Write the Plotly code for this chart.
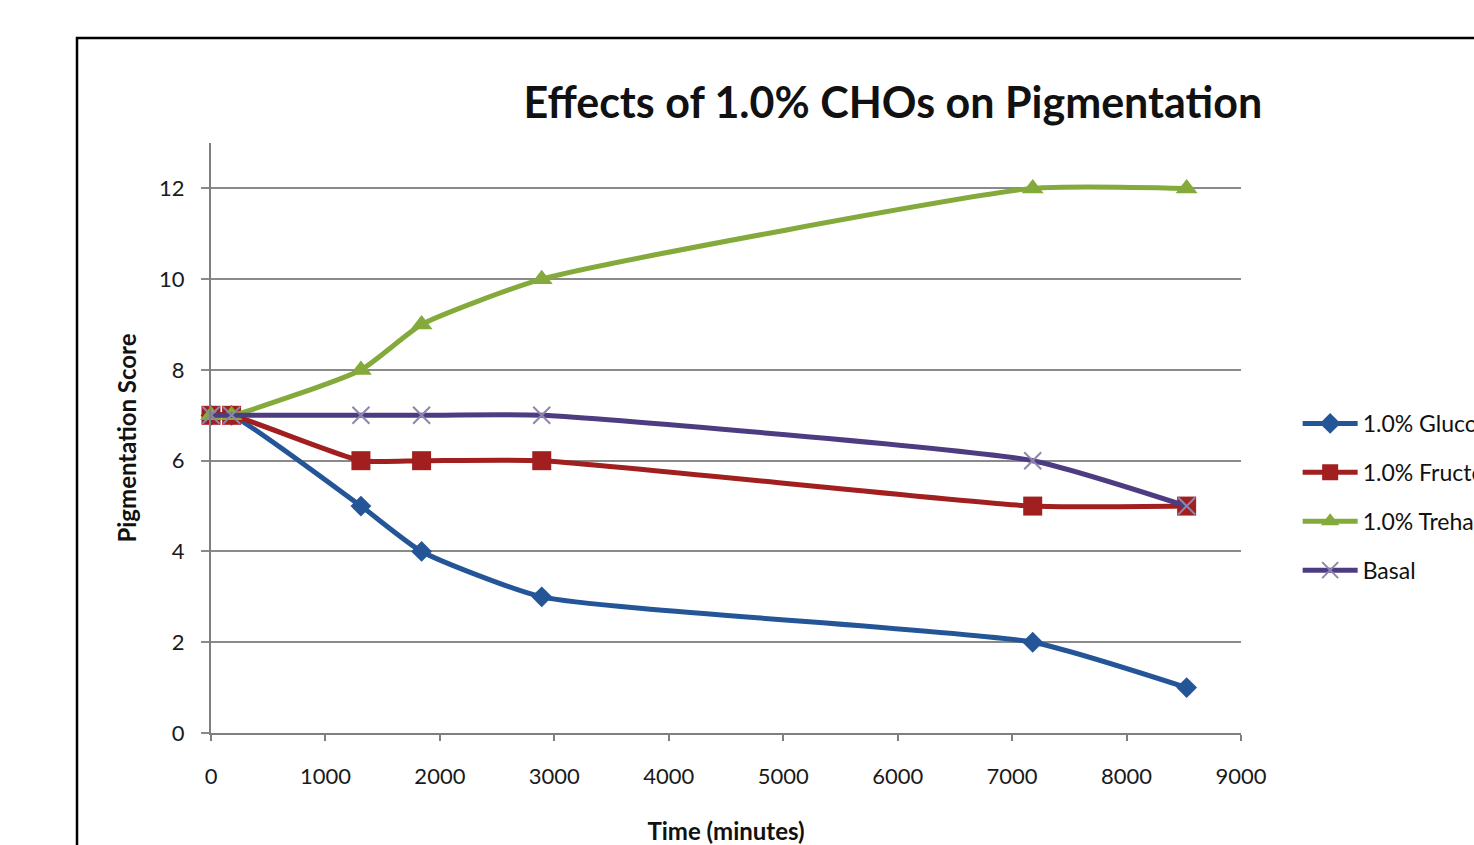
import plotly.graph_objects as go

time_min = [0, 180, 1310, 1840, 2890, 7180, 8525]
glucose = [7, 7, 5, 4, 3, 2, 1]
fructose = [7, 7, 6, 6, 6, 5, 5]
trehalose = [7, 7, 8, 9, 10, 12, 12]
basal = [7, 7, 7, 7, 7, 6, 5]

series_names = ["1.0% Glucose", "1.0% Fructose", "1.0% Trehalose", "Basal"]
x_ticks = [0, 1000, 2000, 3000, 4000, 5000, 6000, 7000, 8000, 9000]
y_ticks = [0, 2, 4, 6, 8, 10, 12]

styles = [
    dict(color="#245597", symbol="diamond", size=16, mcolor="#245597", mline=0),
    dict(color="#A11F1F", symbol="square", size=19, mcolor="#A11F1F", mline=0),
    dict(color="#84AA3C", symbol="triangle-up", size=19, mcolor="#84AA3C", mline=0),
    dict(color="#4E3C82", symbol="x-thin-open", size=17, mcolor="#8E86AE", mline=2),
]
values = [glucose, fructose, trehalose, basal]

fig = go.Figure()
for name, vals, st in zip(series_names, values, styles):
    fig.add_trace(go.Scatter(
        x=time_min, y=vals, name=name, mode="lines+markers",
        legendgroup=name,
        line=dict(color=st["color"], width=5, shape="spline", smoothing=0.5),
        marker=dict(symbol=st["symbol"], size=st["size"], color=st["mcolor"],
                    line=dict(width=st["mline"], color=st["mcolor"])),
        cliponaxis=False,
    ))

font_family = "Lato, 'Noto Sans', sans-serif"

fig.update_layout(
    width=1474, height=845,
    margin=dict(l=211, r=233, t=143, b=112, autoexpand=False),
    paper_bgcolor="white", plot_bgcolor="white",
    font=dict(family=font_family, color="#1a1a1a"),
    title=dict(text="<b>Effects of 1.0% CHOs on Pigmentation</b>",
               x=0.662, xref="paper", xanchor="center",
               y=1 - 103 / 845, yref="container", yanchor="middle",
               font=dict(size=43, family=font_family, color="#111")),
    legend=dict(x=1.055, xanchor="left", y=0.40, yanchor="middle",
                font=dict(size=23, family=font_family, color="#111"),
                tracegroupgap=16, itemwidth=55, bgcolor="rgba(0,0,0,0)"),
    showlegend=True,
)

fig.update_xaxes(
    range=[0, 9000], tickvals=x_ticks, ticktext=[str(v) for v in x_ticks],
    showgrid=False, showline=True, linecolor="#7f7f7f", linewidth=2,
    ticks="outside", ticklen=6, tickwidth=2, tickcolor="#7f7f7f",
    tickfont=dict(size=22, family=font_family, color="#1a1a1a"),
    ticklabelstandoff=17, zeroline=False,
    title=dict(text="<b>Time (minutes)</b>", font=dict(size=24, family=font_family, color="#111"),
               standoff=35),
)
fig.update_yaxes(
    range=[0, 13], tickvals=y_ticks, ticktext=[str(v) for v in y_ticks],
    showgrid=True, gridcolor="#8a8a8a", gridwidth=1.5,
    showline=True, linecolor="#7f7f7f", linewidth=2,
    ticks="outside", ticklen=8, tickwidth=1.5, tickcolor="#8a8a8a",
    tickfont=dict(size=22, family=font_family, color="#1a1a1a"),
    ticklabelstandoff=12, zeroline=False,
    title=dict(text="<b>Pigmentation Score</b>", font=dict(size=24, family=font_family, color="#111"),
               standoff=16),
)

# outer chart frame (extends past the visible page, as in the cropped reference)
fig.add_shape(type="rect", xref="paper", yref="paper",
              x0=(77 - 211) / 1030, x1=1.45, y0=-0.35, y1=1 + (143 - 38) / 590,
              line=dict(color="black", width=2.5), fillcolor="rgba(0,0,0,0)", layer="below")

fig.write_html("out.html")
